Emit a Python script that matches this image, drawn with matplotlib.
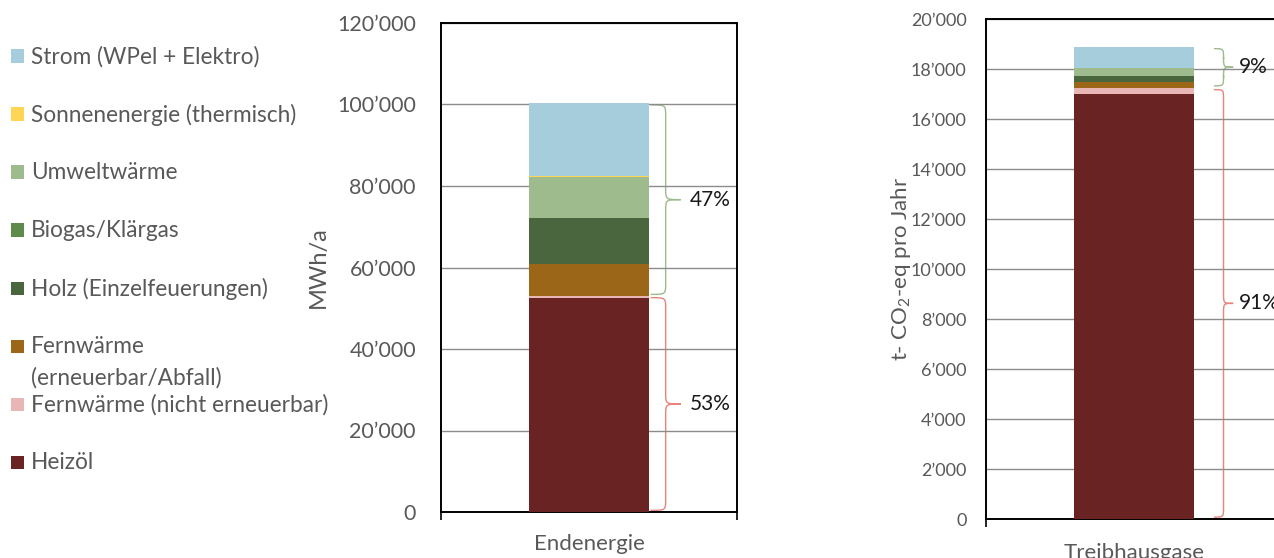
import numpy as np
import matplotlib
matplotlib.use("Agg")
import matplotlib.pyplot as plt
from matplotlib.path import Path
from matplotlib.patches import PathPatch, Rectangle

plt.rcParams['font.family'] = ['Lato', 'DejaVu Sans']
plt.rcParams['mathtext.fontset'] = 'custom'
plt.rcParams['mathtext.rm'] = 'Lato'
plt.rcParams['mathtext.it'] = 'Lato'

# Energy carriers, bottom to top of the stack
carriers = ["Heizöl", "Fernwärme (nicht erneuerbar)", "Fernwärme\n(erneuerbar/Abfall)",
            "Holz (Einzelfeuerungen)", "Biogas/Klärgas", "Umweltwärme",
            "Sonnenenergie (thermisch)", "Strom (WPel + Elektro)"]
colors = ["#692323", "#E8B7B5", "#9C6619", "#4A663F", "#5E8B4B", "#9DBB8D",
          "#FFD556", "#A6CDDC"]

# Final energy demand in MWh/a
endenergie = [52500, 500, 7800, 11400, 0, 9900, 400, 17800]
# Greenhouse gas emissions in t CO2-eq per year
treibhausgase = [17000, 250, 220, 260, 0, 320, 0, 840]

# the first two carriers are non-renewable
fossil_idx = 2

gray = "#595959"
W, H = 1274, 558
fig = plt.figure(figsize=(W / 100, H / 100), dpi=100)


def axes_px(left, top, right, bottom):
    return fig.add_axes([left / W, (H - bottom) / H, (right - left) / W, (bottom - top) / H])


def fmt(v):
    return f"{int(v):,}".replace(",", "\u2019")


def brace(ax, x_end, x_tip, y0, y1, r_px, color):
    # curly brace in data coords, curl radius given in pixels
    ppu = ax.transData.transform((0, 1))[1] - ax.transData.transform((0, 0))[1]
    r = r_px / ppu
    xm = (x_end + x_tip) / 2
    ym = (y0 + y1) / 2
    verts = [(x_end, y1), (xm, y1), (xm, y1), (xm, y1 - r),
             (xm, ym + r),
             (xm, ym), (xm, ym), (x_tip, ym),
             (xm, ym), (xm, ym), (xm, ym - r),
             (xm, y0 + r),
             (xm, y0), (xm, y0), (x_end, y0)]
    codes = [Path.MOVETO, Path.CURVE4, Path.CURVE4, Path.CURVE4,
             Path.LINETO,
             Path.CURVE4, Path.CURVE4, Path.CURVE4,
             Path.CURVE4, Path.CURVE4, Path.CURVE4,
             Path.LINETO,
             Path.CURVE4, Path.CURVE4, Path.CURVE4]
    ax.add_patch(PathPatch(Path(verts, codes), fill=False, edgecolor=color, lw=1.0,
                           clip_on=False))


def stacked(ax, values, ymax, step, tick_size, tick_pad, label, cat, cat_pad):
    ax.set_xlim(-0.5, 0.5)
    ax.set_ylim(0, ymax)
    bottom = 0
    for v, c in zip(values, colors):
        ax.bar(0, v, width=0.404, bottom=bottom, color=c, linewidth=0, zorder=3)
        bottom += v
    ticks = np.arange(0, ymax + 1, step)
    ax.set_yticks(ticks, [fmt(t) for t in ticks])
    ax.yaxis.grid(True, color="#8C8C8C", lw=1.0, zorder=0)
    ax.tick_params(axis="y", length=0, labelsize=tick_size, labelcolor=gray, pad=tick_pad)
    ax.set_xticks([0], [cat])
    ax.tick_params(axis="x", which="major", length=0, labelsize=16, labelcolor=gray,
                   pad=cat_pad)
    ax.set_xticks([-0.5, 0.5], minor=True)
    ax.tick_params(axis="x", which="minor", length=6, width=1.2, color="black",
                   direction="out")
    for s in ax.spines.values():
        s.set_linewidth(1.4)
        s.set_color("black")
    ax.set_ylabel(label, color=gray, fontsize=16)


ax1 = axes_px(441, 23, 737, 512)
stacked(ax1, endenergie, 120000, 20000, 15.5, 18, "MWh/a", "Endenergie", 16)
ax1.yaxis.set_label_coords(-0.38, 0.5)
ax1.yaxis.label.set_fontsize(17)

ax2 = axes_px(986, 19, 1282, 519)
stacked(ax2, treibhausgase, 20000, 2000, 13, 14, "t- CO$_2$-eq pro Jahr", "Treibhausgase", 17)
ax2.yaxis.set_label_coords(-0.245, 0.5)


def annotate(ax, values, x_end, x_tip, r_px, text_dx):
    total = sum(values)
    fossil = sum(values[:fossil_idx])
    gap = total * 0.004
    parts = [(0, fossil, "#E8847A"), (fossil, total, "#9DBB8D")]
    for (y0, y1, c) in parts:
        brace(ax, x_end, x_tip, y0 + gap, y1 - gap, r_px, c)
        share = round((y1 - y0) / total * 100)
        ax.text(x_tip + text_dx, (y0 + y1) / 2, f"{share}%", fontsize=15,
                color="#1A1A1A", va="center", ha="left", clip_on=False)


annotate(ax1, endenergie, 0.208, 0.31, 11, 0.03)
annotate(ax2, treibhausgase, 0.27, 0.335, 10, 0.02)

# legend column on the left
for i, (name, c) in enumerate(zip(carriers[::-1], colors[::-1])):
    y = 56 + i * 58
    fig.patches.append(Rectangle((11 / W, (H - y - 6.5) / H), 13 / W, 13 / H,
                                 transform=fig.transFigure, facecolor=c, edgecolor="none"))
    fig.text(31 / W, (H - y + 10) / H, name, fontsize=16.3, color=gray, va="top",
             ha="left", linespacing=1.6)

fig.savefig("out.png", dpi=100)
